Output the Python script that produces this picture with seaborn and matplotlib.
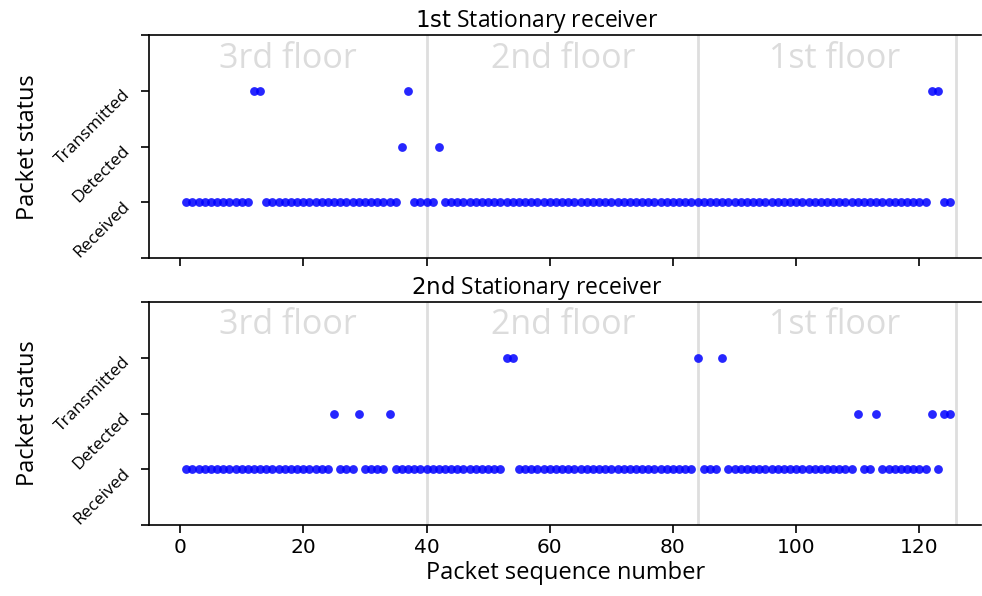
import numpy as np
import pandas as pd
import matplotlib
matplotlib.use("Agg")
import matplotlib.pyplot as plt
import seaborn as sns

# ── data ──────────────────────────────────────────────────────────────
seq = list(range(1, 126))

# status codes: 1 = Received, 2 = Detected, 3 = Transmitted
rx1_transmitted = [12, 13, 37, 122, 123]
rx1_detected = [36, 42]

rx2_transmitted = [53, 54, 84, 88]
rx2_detected = [25, 29, 34, 110, 113, 122, 124, 125]

status_labels = ["", "Received", "Detected", "Transmitted", ""]
floor_names = ["3rd floor", "2nd floor", "1st floor"]
floor_centers = [17.5, 62.2, 106.3]
floor_bounds = [40, 84, 126]
titles = [r"$\mathrm{1st}$ Stationary receiver", r"$\mathrm{2nd}$ Stationary receiver"]


def status_series(transmitted, detected):
    s = []
    for n in seq:
        if n in transmitted:
            s.append(3)
        elif n in detected:
            s.append(2)
        else:
            s.append(1)
    return s


df1 = pd.DataFrame({"seq": seq, "status": status_series(rx1_transmitted, rx1_detected)})
df2 = pd.DataFrame({"seq": seq, "status": status_series(rx2_transmitted, rx2_detected)})

# ── plot ──────────────────────────────────────────────────────────────
sns.set_style("ticks", {"axes.edgecolor": "black", "text.color": "black",
                        "axes.labelcolor": "black", "xtick.color": "black",
                        "ytick.color": "black"})
plt.rcParams["font.family"] = ["DejaVu Sans"]
plt.rcParams["axes.linewidth"] = 1.2
lbl_font = "Open Sans"

fig, axes = plt.subplots(2, 1, figsize=(9.82, 5.96), dpi=100, sharex=True)
fig.subplots_adjust(left=0.152, right=0.999, top=0.941, bottom=0.119, hspace=0.197)

for ax, df, title in zip(axes, [df1, df2], titles):
    for xb in floor_bounds:
        ax.axvline(xb, color="#dedede", lw=2, zorder=0)
    for name, xc in zip(floor_names, floor_centers):
        ax.text(xc, 3.58, name, ha="center", va="center", fontsize=24.5,
                color="#dcdcdc", family=lbl_font, zorder=0)
    sns.scatterplot(data=df, x="seq", y="status", ax=ax, color="blue",
                    alpha=0.85, s=40, linewidth=0, zorder=3)
    ax.set_ylim(0, 4)
    ax.set_yticks(range(5))
    ax.set_yticklabels(status_labels, rotation=45, ha="right",
                       rotation_mode="anchor", fontsize=12.5, family=lbl_font)
    ax.set_ylabel("Packet status", fontsize=17, family=lbl_font, labelpad=9)
    ax.set_xlabel("")
    ax.set_title(title, fontsize=16.5, family=lbl_font, pad=5, x=0.466)
    ax.spines["right"].set_visible(False)
    ax.tick_params(axis="both", length=5.5, width=1.2)
    ax.tick_params(axis="x", labelsize=14.5)
    ax.tick_params(axis="y", pad=11)

axes[1].set_xlim(-5, 130)
axes[1].set_xticks(range(0, 121, 20))
axes[1].set_xlabel("Packet sequence number", fontsize=17, family=lbl_font, labelpad=3)

plt.savefig("out.png", dpi=100)
